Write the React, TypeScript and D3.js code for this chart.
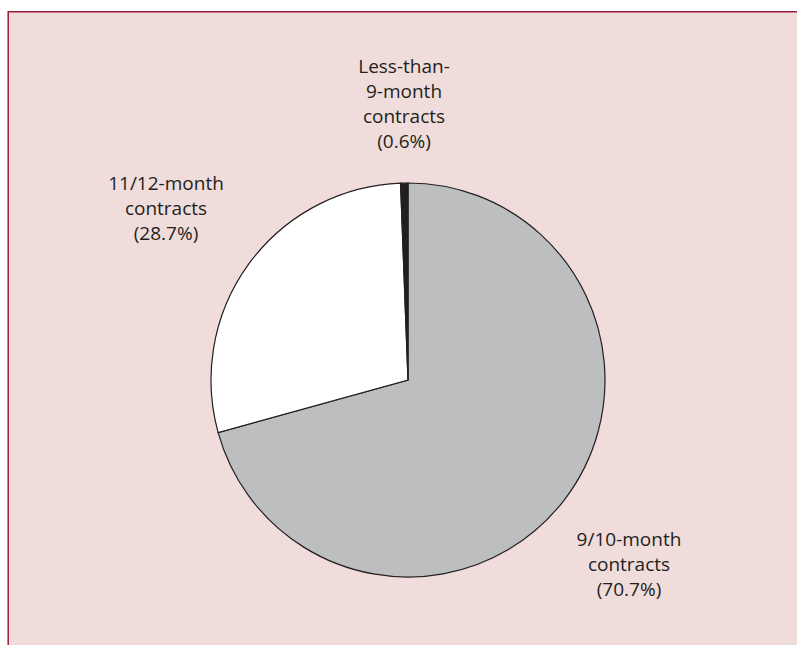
import React from "react";
import * as d3 from "d3";

const width = 797;
const height = 645;

// contract lengths, share of teachers (%)
const categories = ["9/10-month contracts", "11/12-month contracts", "Less-than-9-month contracts"];
const shares = [70.7, 28.7, 0.6];
const sliceColors = ["#bcbec0", "#ffffff", "#231f20"];

// label lines as printed
const labelLines = [
  ["9/10-month", "contracts", "(70.7%)"],
  ["11/12-month", "contracts", "(28.7%)"],
  ["Less-than-", "9-month", "contracts", "(0.6%)"],
];

const cx = 408;
const cy = 380;
const radius = 197;
const lineHeight = 25;

// where each label block sits (centre x, first baseline)
const labelPos = [
  { x: 629, y: 546 },
  { x: 166, y: 190 },
  { x: 404, y: 73 },
];

export default function App() {
  const data = categories.map((c, i) => ({ name: c, value: shares[i] }));

  const pie = d3.pie<any>()
    .sort(null)
    .value((d) => d.value)
    .startAngle(0)
    .endAngle(2 * Math.PI);

  const arc = d3.arc<any>().innerRadius(0).outerRadius(radius);

  const slices = pie(data);

  return (
    <div style={{ position: "absolute", left: 0, top: 0 }}>
      <svg width={width} height={height} style={{ display: "block" }}>
        <rect x={8} y={11} width={width - 8} height={height - 11} fill="#f0dcda" />
        <line x1={8} x2={width} y1={11.7} y2={11.7} stroke="#9b1b3d" strokeWidth={1.5} />
        <line x1={8.2} x2={8.2} y1={11} y2={height} stroke="#9b1b3d" strokeWidth={1.5} />

        <g transform={"translate(" + cx + "," + cy + ")"}>
          {slices.map((s, i) => (
            <path key={i} d={arc(s) as string} fill={sliceColors[i]} stroke="#231f20" strokeWidth={1.2} strokeLinejoin="miter" />
          ))}
        </g>

        {labelLines.map((lines, i) => (
          <text
            key={i}
            x={labelPos[i].x}
            y={labelPos[i].y}
            textAnchor="middle"
            fontFamily="'Open Sans', sans-serif"
            fontSize={19}
            fill="#231f20"
          >
            {lines.map((l, j) => (
              <tspan key={j} x={labelPos[i].x} y={labelPos[i].y + j * lineHeight}>{l}</tspan>
            ))}
          </text>
        ))}
      </svg>
    </div>
  );
}
